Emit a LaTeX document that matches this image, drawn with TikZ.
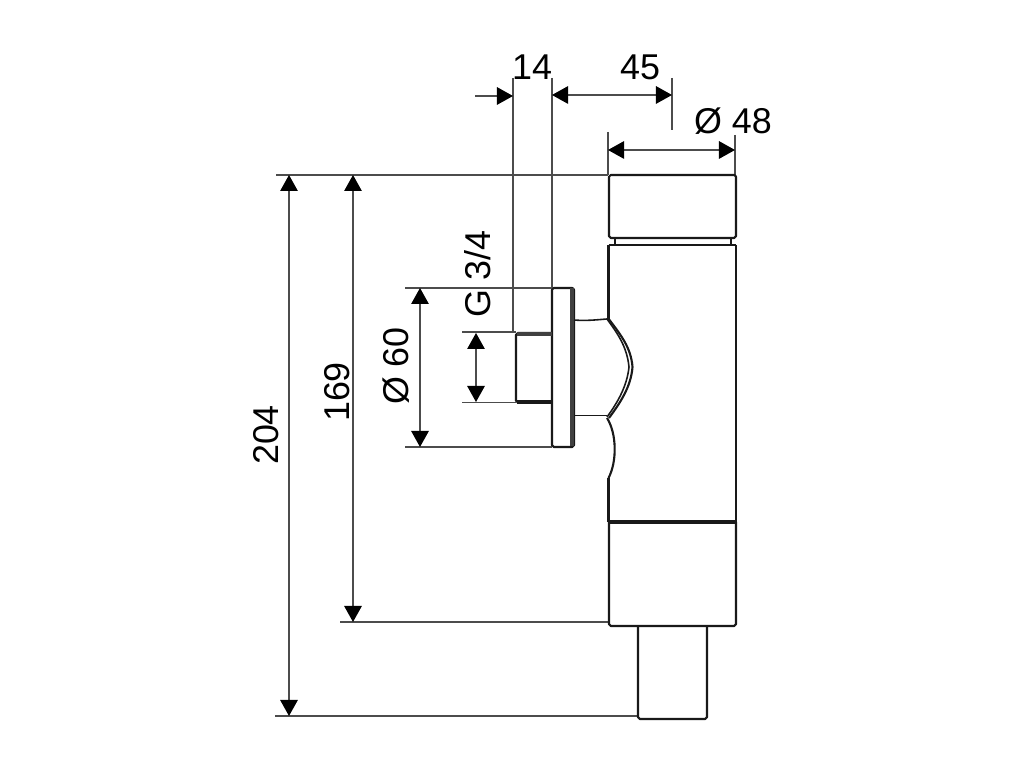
\documentclass[tikz,border=0pt]{standalone}
\usepackage{fontspec}
\setmainfont{Liberation Sans}
\usetikzlibrary{arrows.meta}
\begin{document}
\begin{tikzpicture}[x=0.01cm,y=-0.01cm]
\tikzstyle{ext}=[draw=black!70,line width=0.3pt]
\tikzstyle{dim}=[draw=black!70,line width=0.35pt,{Triangle[length=0.16cm,width=0.175cm,black]}-{Triangle[length=0.16cm,width=0.175cm,black]}]
\tikzstyle{dimr}=[draw=black!70,line width=0.35pt,-{Triangle[length=0.16cm,width=0.175cm,black]}]
\tikzstyle{part}=[draw=black!90,line width=0.6pt,line join=round]
\tikzstyle{heavy}=[draw=black!90,line width=1pt]
\tikzstyle{size}=[font=\fontsize{10.2}{12}\selectfont,inner sep=0pt]
\useasboundingbox (0,0) rectangle (1024,768);
% extension lines
\coordinate (topl) at (276,175);
\coordinate (capl) at (608,175);
\coordinate (botl) at (340,622);
\coordinate (botr) at (608,622);
\coordinate (pipel) at (275,716);
\coordinate (piper) at (638,716);
\draw[ext] (topl) -- (capl);
\draw[ext] (botl) -- (botr);
\draw[ext] (pipel) -- (piper);
\draw[ext] (513,78) -- (513,332);
\draw[ext] (552,78) -- (552,288);
\draw[ext] (672,78) -- (672,130);
\draw[ext] (608,132) -- (608,175);
\draw[ext] (735,135) -- (735,175);
\draw[ext] (405,288) -- (552,288);
\draw[ext] (405,447) -- (552,447);
\draw[ext] (462,332) -- (516,332);
\draw[ext] (462,402.5) -- (516,402.5);
% dimensions
\coordinate (a1) at (289,175);
\coordinate (a2) at (289,716);
\coordinate (b1) at (353,175);
\coordinate (b2) at (353,622);
\coordinate (c1) at (420,288);
\coordinate (c2) at (420,447);
\coordinate (d1) at (476,333);
\coordinate (d2) at (476,402);
\coordinate (e0) at (475,96);
\coordinate (e1) at (513,96);
\coordinate (f1) at (552,95);
\coordinate (f2) at (672,95);
\coordinate (g1) at (608,150);
\coordinate (g2) at (735,150);
\draw[dim] (a1) -- (a2);
\draw[dim] (b1) -- (b2);
\draw[dim] (c1) -- (c2);
\draw[dim] (d1) -- (d2);
\draw[dimr] (e0) -- (e1);
\draw[dim] (f1) -- (f2);
\draw[dim] (g1) -- (g2);
\node[size,rotate=90] (l204) at (266,435) {204};
\node[size,rotate=90] (l169) at (337,392) {169};
\node[size,rotate=90] (l60) at (396,366) {Ø 60};
\node[size,rotate=90] (lg) at (478,274) {G 3/4};
\node[size] (l14) at (532,67) {14};
\node[size] (l45) at (640,67) {45};
\node[size] (l48) at (733,121) {Ø 48};
% valve
\draw[part,rounded corners=0.5pt] (609,175) rectangle (736,238);
\draw[part] (615,238) -- (615,245);
\draw[part] (731,238) -- (731,245);
\draw[part] (608.5,245) -- (736,245);
\draw[part] (736,245) -- (736,522);
\draw[part] (608.5,245) -- (608.5,319);
\draw[part] (608.5,478) -- (608.5,522);
\draw[part] (608.5,478) .. controls (617,462) and (617,434) .. (607,418);
\draw[heavy] (609,522) -- (736,522);
\draw[part,rounded corners=0.5pt] (609,522) -- (609,626) -- (736,626) -- (736,522);
\draw[part,rounded corners=0.5pt] (638,626) -- (638,719) -- (707,719) -- (707,626);
% flange and stub
\draw[part,rounded corners=0.5pt] (552,288) rectangle (574,447);
\fill[black!75] (570,288.5) rectangle (574,446.5);
\draw[part,rounded corners=0.5pt] (552,402.5) -- (516,402.5) -- (516,333) -- (552,333);
\draw[heavy,black!75] (517,334) -- (552,334);
\draw[heavy] (517,402) -- (552,402);
% dome
\draw[part,line width=0.45pt] (574,320) .. controls (585,321) and (595,320) .. (607,319);
\draw[part,line width=0.45pt] (574,415.5) -- (607,415.5);
\draw[part,line width=0.45pt] (607,319) .. controls (618,334) and (627,347) .. (629,367) .. controls (627,386) and (618,402) .. (607,417);
\draw[part] (608,318) .. controls (620,334) and (631,347) .. (632.5,367) .. controls (631,387) and (620,403) .. (609,418);
\end{tikzpicture}
\end{document}
